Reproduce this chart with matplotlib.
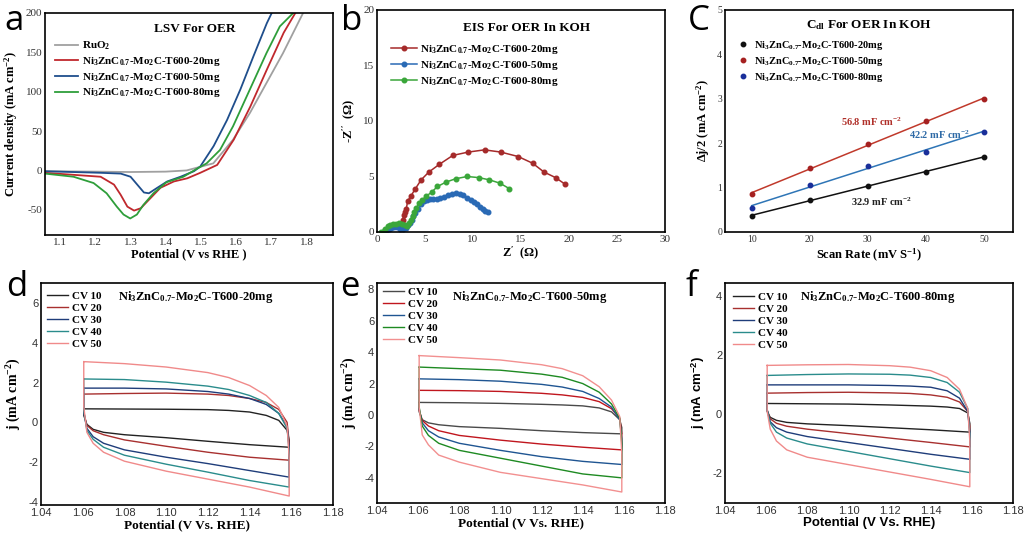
import numpy as np
import matplotlib
matplotlib.use("Agg")
import matplotlib.pyplot as plt

plt.rcParams['font.family'] = 'Liberation Serif'
plt.rcParams['axes.unicode_minus'] = False
plt.rcParams['mathtext.fontset'] = 'custom'
plt.rcParams['mathtext.rm'] = 'Liberation Serif:bold'
plt.rcParams['mathtext.it'] = 'Liberation Serif:italic:bold'
plt.rcParams['mathtext.bf'] = 'Liberation Serif:bold'
plt.rcParams['mathtext.sf'] = 'Liberation Sans:bold'

s20 = r'Ni$_3$ZnC$_{0.7}$-Mo$_2$C-T600-20mg'
s50 = r'Ni$_3$ZnC$_{0.7}$-Mo$_2$C-T600-50mg'
s80 = r'Ni$_3$ZnC$_{0.7}$-Mo$_2$C-T600-80mg'

# --- (a) LSV data ---
ruo2_E = [1.057, 1.2, 1.3, 1.4, 1.459, 1.535, 1.591, 1.639, 1.686, 1.733, 1.790]
ruo2_j = [-1, -1.5, -2, -1.5, 0, 9, 39, 73, 111, 149, 200]
lsv20_E = [1.057, 1.215, 1.253, 1.272, 1.291, 1.310, 1.329, 1.357, 1.385, 1.423, 1.461, 1.498, 1.546, 1.593, 1.640, 1.687, 1.735, 1.768]
lsv20_j = [-3, -8, -18, -31, -46, -51, -48, -35, -22, -14, -10, -3, 7, 39, 81, 128, 175, 200]
lsv50_E = [1.057, 1.215, 1.272, 1.300, 1.319, 1.338, 1.352, 1.376, 1.404, 1.442, 1.480, 1.498, 1.536, 1.574, 1.612, 1.649, 1.687, 1.701]
lsv50_j = [-1, -3, -4, -8, -18, -28, -29, -22, -14, -8, -1, 5, 31, 64, 103, 145, 187, 200]
lsv80_E = [1.057, 1.138, 1.195, 1.232, 1.261, 1.280, 1.299, 1.318, 1.336, 1.365, 1.402, 1.450, 1.488, 1.516, 1.554, 1.591, 1.639, 1.686, 1.724, 1.762]
lsv80_j = [-4, -8, -16, -29, -46, -56, -61, -56, -44, -29, -15, -8, 2, 9, 26, 56, 103, 149, 183, 200]

# --- (b) EIS data ---
eis20_re = [0.8, 1.1, 1.4, 1.8, 2.2, 2.5, 2.6, 2.7, 2.8, 2.95, 3.05, 3.2, 3.5, 4.0, 4.6, 5.4, 6.5, 7.9, 9.5, 11.2, 12.9, 14.7, 16.2, 17.4, 18.6, 19.6]
eis20_im = [0.0, 0.25, 0.4, 0.55, 0.55, 0.4, 0.7, 1.1, 1.5, 1.8, 2.1, 2.8, 3.2, 3.9, 4.7, 5.4, 6.1, 6.9, 7.2, 7.4, 7.2, 6.8, 6.2, 5.4, 4.9, 4.3]
eis50_re = [0.6, 0.9, 1.2, 1.5, 1.8, 2.1, 2.4, 2.7, 3.0, 3.2, 3.4, 3.6, 3.8, 4.0, 4.3, 4.6, 4.9, 5.2, 5.5, 5.8, 6.2, 6.6,
            7.0, 7.4, 7.8, 8.2, 8.6, 9.0, 9.4, 9.8, 10.1, 10.4, 10.7, 11.0, 11.3, 11.6]
eis50_im = [0.0, 0.2, 0.3, 0.4, 0.45, 0.42, 0.3, 0.3, 0.4, 0.6, 0.85, 1.1, 1.4, 1.7, 2.1, 2.5, 2.75, 2.9, 2.95, 3.0, 3.0, 3.05,
            3.15, 3.3, 3.45, 3.5, 3.45, 3.3, 3.1, 2.9, 2.7, 2.5, 2.25, 2.05, 1.9, 1.8]
eis80_re = [0.45, 0.8, 1.1, 1.4, 1.7, 2.0, 2.3, 2.6, 2.9, 3.1, 3.3, 3.5, 3.7, 3.9, 4.1, 4.4, 4.7, 5.1, 5.7, 6.3, 7.2,
            8.2, 9.4, 10.6, 11.7, 12.8, 13.8]
eis80_im = [0.0, 0.3, 0.5, 0.6, 0.7, 0.75, 0.8, 0.75, 0.6, 0.55, 0.8, 1.1, 1.45, 1.8, 2.2, 2.6, 2.9, 3.2, 3.6, 4.1, 4.5,
            4.8, 5.0, 4.9, 4.7, 4.4, 3.9]

# --- (c) Cdl data ---
scan_rate = [10, 20, 30, 40, 50]
dj20 = [0.37, 0.72, 1.03, 1.35, 1.70]
dj50 = [0.85, 1.44, 1.99, 2.49, 2.99]
dj80 = [0.54, 1.06, 1.49, 1.81, 2.26]

# --- (d-f) CV loops: shared potential path, currents per scan rate ---
cv_E = [1.0605, 1.08, 1.10, 1.12, 1.13, 1.14, 1.148, 1.154, 1.158, 1.159, 1.159,
        1.14, 1.12, 1.10, 1.08, 1.07, 1.065, 1.062, 1.0605]
cv_labels = ['CV 10', 'CV 20', 'CV 30', 'CV 40', 'CV 50']

cv_d = [
    [0.68, 0.67, 0.66, 0.64, 0.60, 0.52, 0.35, 0.10, -0.40, -0.90, -1.25, -1.12, -0.95, -0.77, -0.62, -0.50, -0.35, -0.10, 0.35],
    [1.42, 1.45, 1.47, 1.42, 1.35, 1.20, 1.00, 0.65, 0.00, -1.00, -1.90, -1.75, -1.50, -1.20, -0.88, -0.62, -0.42, -0.15, 0.50],
    [1.72, 1.72, 1.68, 1.55, 1.42, 1.20, 0.90, 0.45, -0.20, -1.30, -2.75, -2.42, -2.07, -1.75, -1.38, -1.05, -0.72, -0.30, 0.50],
    [2.18, 2.15, 2.02, 1.82, 1.65, 1.35, 1.00, 0.45, -0.30, -1.50, -3.25, -2.92, -2.50, -2.10, -1.65, -1.25, -0.85, -0.40, 0.60],
    [3.05, 2.95, 2.78, 2.50, 2.25, 1.85, 1.35, 0.75, -0.20, -1.80, -3.70, -3.25, -2.85, -2.45, -1.95, -1.50, -1.05, -0.50, 0.80],
]
cv_e = [
    [0.80, 0.78, 0.74, 0.68, 0.64, 0.58, 0.45, 0.20, -0.30, -0.80, -1.20, -1.12, -1.00, -0.85, -0.74, -0.62, -0.50, -0.30, 0.20],
    [1.57, 1.55, 1.50, 1.38, 1.28, 1.12, 0.85, 0.40, -0.20, -1.20, -2.22, -2.05, -1.85, -1.60, -1.30, -1.00, -0.70, -0.35, 0.30],
    [2.30, 2.25, 2.15, 1.95, 1.78, 1.50, 1.05, 0.50, -0.30, -1.50, -3.15, -2.95, -2.65, -2.25, -1.80, -1.40, -1.00, -0.50, 0.40],
    [3.05, 2.95, 2.85, 2.60, 2.40, 2.00, 1.45, 0.70, -0.20, -1.80, -4.00, -3.75, -3.25, -2.75, -2.25, -1.80, -1.30, -0.70, 0.50],
    [3.78, 3.65, 3.50, 3.20, 2.95, 2.50, 1.80, 0.95, -0.10, -2.50, -4.90, -4.45, -4.05, -3.65, -3.00, -2.55, -1.90, -1.27, 0.50],
]
cv_f = [
    [0.37, 0.36, 0.35, 0.32, 0.30, 0.28, 0.25, 0.20, 0.05, -0.30, -0.60, -0.52, -0.45, -0.38, -0.32, -0.27, -0.20, -0.10, 0.10],
    [0.72, 0.74, 0.75, 0.73, 0.71, 0.66, 0.58, 0.42, 0.10, -0.40, -1.10, -0.95, -0.80, -0.65, -0.50, -0.40, -0.30, -0.15, 0.15],
    [1.00, 1.00, 1.00, 0.98, 0.96, 0.92, 0.80, 0.55, 0.10, -0.60, -1.52, -1.35, -1.15, -0.95, -0.75, -0.60, -0.45, -0.25, 0.15],
    [1.32, 1.35, 1.37, 1.36, 1.33, 1.25, 1.08, 0.75, 0.20, -0.70, -1.97, -1.75, -1.50, -1.25, -1.00, -0.80, -0.60, -0.30, 0.15],
    [1.66, 1.68, 1.69, 1.65, 1.60, 1.48, 1.25, 0.85, 0.20, -0.90, -2.45, -2.20, -1.95, -1.70, -1.45, -1.20, -0.90, -0.50, 0.10],
]

cv_colors_df = ['#222222', '#a8302f', '#1f3d7a', '#2a8c8c', '#f08a8a']
cv_colors_e = ['#4a4a4a', '#c0161e', '#1f5592', '#1e8a22', '#f29090']

W, H = 1026, 536
fig = plt.figure(figsize=(W / 100, H / 100), dpi=100)


def add_ax(l, t, r, b):
    return fig.add_axes([l / W, 1 - b / H, (r - l) / W, (b - t) / H])


def style(ax, sans=False, size=8):
    for s in ax.spines.values():
        s.set_linewidth(1.2)
    ax.tick_params(length=0, pad=2, labelsize=size, colors='#333333')
    if sans:
        for lab in ax.get_xticklabels() + ax.get_yticklabels():
            lab.set_family('Liberation Sans')


bold = dict(fontweight='bold')

# ---- a ----
ax = add_ax(45, 13, 333, 235)
ax.plot(ruo2_E, ruo2_j, color='#a0a0a0', lw=1.3, label=r'RuO$_2$')
ax.plot(lsv20_E, lsv20_j, color='#c0282d', lw=1.3, label=s20)
ax.plot(lsv50_E, lsv50_j, color='#1f4e8c', lw=1.3, label=s50)
ax.plot(lsv80_E, lsv80_j, color='#2e9e3a', lw=1.3, label=s80)
ax.set_xlim(1.057, 1.875)
ax.set_ylim(-82, 200)
ax.set_xticks([1.1, 1.2, 1.3, 1.4, 1.5, 1.6, 1.7, 1.8])
ax.set_yticks([-50, 0, 50, 100, 150, 200])
style(ax)
ax.set_xlabel('Potential (V vs RHE )', fontsize=9, labelpad=1, **bold)
ax.set_ylabel(r'Current density (mA cm$^{-2}$)', fontsize=9, labelpad=4, **bold)
ax.text(0.52, 0.93, 'LSV For OER', transform=ax.transAxes, ha='center', va='center', fontsize=9.5, **bold)
ax.legend(loc='upper left', bbox_to_anchor=(0.035, 0.88), frameon=False,
          handlelength=2.1, handletextpad=0.3, labelspacing=0.25, borderpad=0, borderaxespad=0,
          prop=dict(weight='bold', size=8))

# ---- b ----
ax = add_ax(377, 10, 665, 232)
ax.plot(eis20_re, eis20_im, '-o', color='#a52a2a', lw=1.1, ms=3.3, label=s20)
ax.plot(eis50_re, eis50_im, '-o', color='#2a6ab5', lw=1.1, ms=3.3, label=s50)
ax.plot(eis80_re, eis80_im, '-o', color='#3aa63a', lw=1.1, ms=3.3, label=s80)
ax.set_xlim(0, 30)
ax.set_ylim(0, 20)
ax.set_xticks([0, 5, 10, 15, 20, 25, 30])
ax.set_yticks([0, 5, 10, 15, 20])
style(ax)
ax.set_xlabel(r"Z$'$  ($\Omega$)", fontsize=9, labelpad=1, **bold)
ax.set_ylabel(r"-Z$''$  ($\Omega$)", fontsize=9, labelpad=4, **bold)
ax.text(0.52, 0.92, 'EIS For OER In KOH', transform=ax.transAxes, ha='center', va='center', fontsize=9.5, **bold)
ax.legend(loc='upper left', bbox_to_anchor=(0.05, 0.85), frameon=False,
          handlelength=2.3, handletextpad=0.3, labelspacing=0.25, borderpad=0, borderaxespad=0,
          prop=dict(weight='bold', size=8))

# ---- c ----
ax = add_ax(725, 10, 1013, 232)
fit_x = np.array([10, 50])
for dj, mcol, lcol, lab in [(dj20, '#111111', '#111111', s20),
                            (dj50, '#a52020', '#c0392b', s50),
                            (dj80, '#1a2f9a', '#2e75b6', s80)]:
    k, b0 = np.polyfit(scan_rate, dj, 1)
    ax.plot(fit_x, k * fit_x + b0, color=lcol, lw=1.1)
    ax.plot(scan_rate, dj, 'o', color=mcol, ms=3.2, label=lab)
ax.set_xlim(5.4, 55)
ax.set_ylim(0, 5)
ax.set_xticks([10, 20, 30, 40, 50])
ax.set_yticks([0, 1, 2, 3, 4, 5])
style(ax, size=7)
ax.set_xlabel(r'Scan Rate (mV S$^{-1}$)', fontsize=9, labelpad=2, **bold)
ax.set_ylabel(r'$\Delta$j/2 (mA cm$^{-2}$)', fontsize=9, labelpad=4, **bold)
ax.text(0.5, 0.93, r'C$_{\mathrm{dl}}$ For OER In KOH', transform=ax.transAxes, ha='center', va='center',
        fontsize=9.5, **bold)
ax.text(30.7, 2.49, r'56.8 mF cm$^{-2}$', color='#b0302a', ha='center', va='center', fontsize=7.5, **bold)
ax.text(42.3, 2.2, r'42.2 mF cm$^{-2}$', color='#2e6aa6', ha='center', va='center', fontsize=7.5, **bold)
ax.text(32.4, 0.67, r'32.9 mF cm$^{-2}$', color='#222222', ha='center', va='center', fontsize=7.5, **bold)
ax.legend(loc='upper left', bbox_to_anchor=(0.045, 0.87), frameon=False,
          handlelength=1.0, handletextpad=0.5, labelspacing=0.3, borderpad=0, borderaxespad=0,
          prop=dict(weight='bold', size=7.5))

# ---- d, e, f ----
E_loop = np.append(cv_E, cv_E[0])
panels = [
    ((41, 283, 333, 505), cv_d, cv_colors_df, s20, (-4.15, 7), [-4, -2, 0, 2, 4, 6], (0.02, 0.965), False),
    ((377, 283, 665, 503), cv_e, cv_colors_e, s50, (-5.6, 8.4), [-4, -2, 0, 2, 4, 6, 8], (0.02, 0.98), False),
    ((725, 283, 1013, 503), cv_f, cv_colors_df, s80, (-3, 4.45), [-2, 0, 2, 4], (0.028, 0.96), True),
]
for box, curves, cols, title, ylim, yt, lpos, sans in panels:
    ax = add_ax(*box)
    for j, col, lab in zip(curves, cols, cv_labels):
        ax.plot(E_loop, np.append(j, j[0]), color=col, lw=1.0, label=lab)
    ax.set_xlim(1.04, 1.18)
    ax.set_ylim(*ylim)
    ax.set_xticks([1.04, 1.06, 1.08, 1.10, 1.12, 1.14, 1.16, 1.18])
    ax.set_xticklabels(['1.04', '1.06', '1.08', '1.10', '1.12', '1.14', '1.16', '1.18'])
    ax.set_yticks(yt)
    style(ax, sans=True)
    if sans:
        ax.set_xlabel('Potential (V Vs. RHE)', fontsize=9.5, labelpad=1, family='Liberation Sans', **bold)
        ax.set_ylabel(r'j (mA cm$^{\mathsf{-2}}$)', fontsize=9.5, labelpad=4, family='Liberation Sans', **bold)
    else:
        ax.set_xlabel('Potential (V Vs. RHE)', fontsize=9.5, labelpad=1, **bold)
        ax.set_ylabel(r'j (mA cm$^{-2}$)', fontsize=10, labelpad=4, **bold)
    ax.text(0.53, 0.935, title, transform=ax.transAxes, ha='center', va='center', fontsize=9, **bold)
    ax.legend(loc='upper left', bbox_to_anchor=lpos, frameon=False,
              handlelength=1.9, handletextpad=0.35, labelspacing=0.2, borderpad=0, borderaxespad=0,
              prop=dict(weight='bold', size=8))

# panel letters
for ch, x, y in [('a', 4, 30), ('b', 341, 30), ('C', 688, 30),
                 ('d', 6, 296), ('e', 340, 296), ('f', 686, 296)]:
    fig.text(x / W, 1 - y / H, ch, fontsize=25, family='Open Sans', va='baseline', ha='left')

fig.savefig('out.png', dpi=100)
